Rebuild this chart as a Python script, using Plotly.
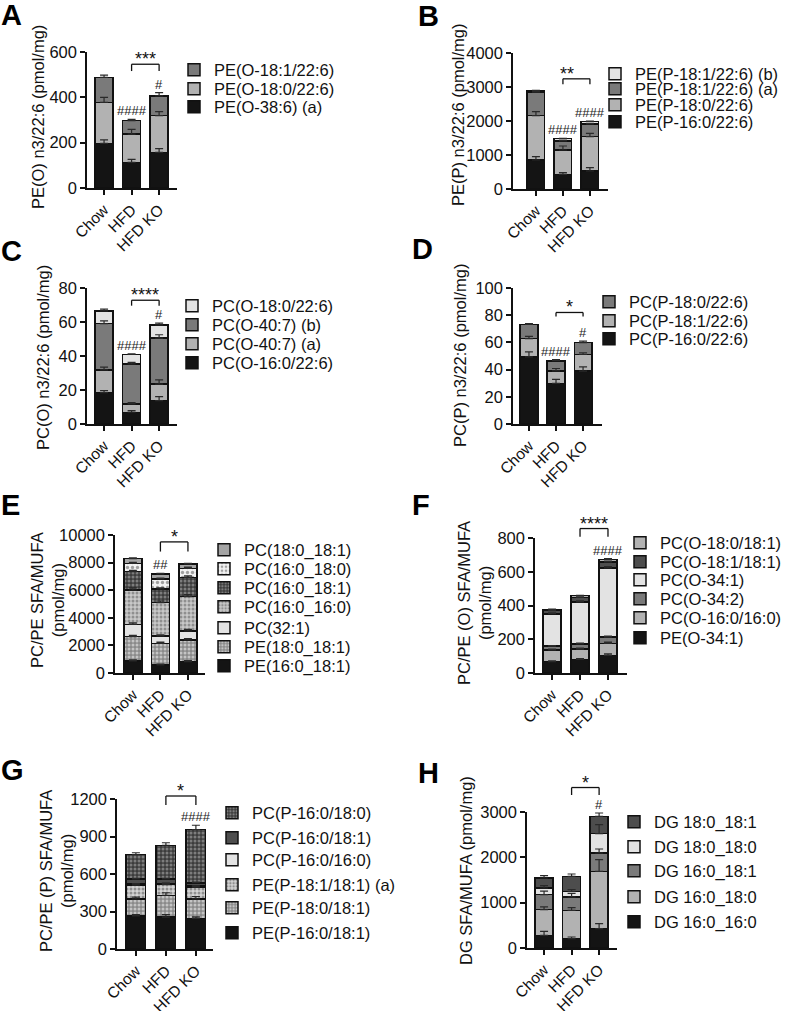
import plotly.graph_objects as go

W, H = 787, 1011
OFF = 0
FONT = "Liberation Sans, Arial, sans-serif"
FS = 16.5

categories = ["Chow", "HFD", "HFD KO"]

# ---------- Panel A ----------
a_names = ["PE(O-38:6) (a)", "PE(O-18:0/22:6)", "PE(O-18:1/22:6)"]
a_values = [[197, 113, 157], [181, 125, 162], [110, 59, 87]]
a_errors = [[15, 13, 17], [22, 21, 18], [10, 6, 15]]
a_hash = ["", "####", "#"]
a_star = "***"

# ---------- Panel B ----------
b_names = ["PE(P-16:0/22:6)", "PE(P-18:0/22:6)", "PE(P-18:1/22:6) (a)", "PE(P-18:1/22:6) (b)"]
b_values = [[853, 431, 529], [1304, 716, 1010], [690, 270, 373], [45, 63, 68]]
b_errors = [[98, 49, 98], [118, 118, 98], [15, 15, 15], [10, 10, 15]]
b_hash = ["", "####", "####"]
b_star = "**"

# ---------- Panel C ----------
c_names = ["PC(O-16:0/22:6)", "PC(O-40:7) (a)", "PC(O-40:7) (b)", "PC(O-18:0/22:6)"]
c_values = [[18.5, 6.9, 13.8], [13.3, 4.9, 9.6], [27.2, 23.6, 27.1], [7.6, 5.6, 7.8]]
c_errors = [[1.1, 1.0, 2.3], [1.6, 0.8, 2.5], [1.7, 0.9, 2.0], [1.0, 0.3, 1.0]]
c_hash = ["", "####", "#"]
c_star = "****"

# ---------- Panel D ----------
d_names = ["PC(P-16:0/22:6)", "PC(P-18:1/22:6)", "PC(P-18:0/22:6)"]
d_values = [[49.4, 29.8, 38.9], [13.4, 9.3, 12.2], [10.5, 7.4, 8.8]]
d_errors = [[3.6, 3.0, 3.1], [1.7, 1.7, 1.2], [0.5, 0.9, 1.0]]
d_hash = ["", "####", "#"]
d_star = "*"

# ---------- Panel E ----------
e_names = ["PE(16:0_18:1)", "PE(18:0_18:1)", "PC(32:1)", "PC(16:0_16:0)",
           "PC(16:0_18:1)", "PC(16:0_18:0)", "PC(18:0_18:1)"]
e_values = [[870, 580, 821], [1763, 1570, 1570], [894, 531, 652], [2487, 2416, 2488],
            [1329, 990, 1401], [604, 725, 653], [340, 362, 314]]
e_errors = [[80, 60, 80], [100, 90, 100], [100, 80, 120], [150, 120, 150],
            [100, 90, 100], [80, 70, 80], [60, 50, 50]]
e_hash = ["", "##", ""]
e_star = "*"

# ---------- Panel F ----------
f_names = ["PE(O-34:1)", "PC(O-16:0/16:0)", "PC(O-34:2)", "PC(O-34:1)",
           "PC(O-18:1/18:1)", "PC(O-18:0/18:1)"]
f_values = [[67, 81, 105], [70, 61, 70], [22, 30, 38], [192, 250, 410], [18, 26, 35], [8, 10, 15]]
f_errors = [[5, 5, 8], [5, 5, 8], [3, 5, 6], [5, 5, 8], [2, 3, 5], [2, 2, 5]]
f_hash = ["", "", "####"]
f_star = "****"

# ---------- Panel G ----------
g_names = ["PE(P-16:0/18:1)", "PE(P-18:0/18:1)", "PE(P-18:1/18:1) (a)", "PC(P-16:0/16:0)",
           "PC(P-16:0/18:1)", "PC(P-16:0/18:0)"]
g_values = [[265, 255, 245], [135, 175, 155], [110, 85, 95], [10, 10, 10], [40, 35, 25], [195, 270, 425]]
g_errors = [[10, 20, 12], [15, 20, 20], [10, 10, 10], [3, 3, 3], [5, 5, 5], [15, 20, 35]]
g_hash = ["", "", "####"]
g_star = "*"

# ---------- Panel H ----------
h_names = ["DG 16:0_16:0", "DG 16:0_18:0", "DG 16:0_18:1", "DG 18:0_18:0", "DG 18:0_18:1"]
h_values = [[279, 206, 426], [567, 625, 1265], [330, 294, 405], [148, 125, 426], [220, 331, 382]]
h_errors = [[89, 37, 111], [60, 60, 258], [80, 80, 88], [50, 40, 198], [52, 51, 74]]
h_hash = ["", "", "#"]
h_star = "*"

# ---------- styles ----------
BLACK = "#141414"
DARK = "#7a7a7a"
DARKER = "#4d4d4d"
LIGHT = "#b2b2b2"
VLIGHT = "#e3e3e3"


def solid(c):
    return dict(color=c)


def pat(bg, fg, size=4, solidity=0.45):
    return dict(color=bg, pattern=dict(shape=".", bgcolor=bg, fgcolor=fg, size=size,
                                       solidity=solidity, fillmode="replace"))


a_styles = [solid(BLACK), solid(LIGHT), solid(DARK)]
b_styles = [solid(BLACK), solid(LIGHT), solid(DARK), solid(VLIGHT)]
c_styles = [solid(BLACK), solid(LIGHT), solid(DARK), solid(VLIGHT)]
d_styles = [solid(BLACK), solid(LIGHT), solid(DARK)]
e_styles = [solid(BLACK), pat("#8a8a8a", "#c4c4c4"), solid(VLIGHT), pat("#c9c9c9", "#8f8f8f"),
            pat("#3c3c3c", "#7d7d7d"), pat("#f2f2f2", "#a0a0a0", 5, 0.35), solid("#a4a4a4")]
f_styles = [solid(BLACK), solid(LIGHT), solid(DARK), solid(VLIGHT), solid(DARKER), solid(LIGHT)]
g_styles = [solid(BLACK), pat("#8a8a8a", "#c4c4c4"), pat("#d4d4d4", "#8f8f8f"), solid(VLIGHT),
            solid(DARKER), pat("#3c3c3c", "#7d7d7d")]
h_styles = [solid(BLACK), solid(LIGHT), solid(DARK), solid(VLIGHT), solid(DARKER)]


def fx(px):
    return (px - OFF) / W


def fy(py):
    return 1 - (py - OFF) / H


# layout geometry in page pixels: y-axis x, x-axis end, y of zero, y of max
# legx: legend text start; rows: legend row centres from top to bottom; tpos: y-title centre
panels = [
    dict(key="A", names=a_names, vals=a_values, errs=a_errors, styles=a_styles, hashes=a_hash, star=a_star,
         px=(87, 177, 188, 52), xr=(-0.62, 2.65), yr=(0, 600), dt=200,
         title="PE(O) n3/22:6 (pmol/mg)", tpos=(38, 117), legx=217, rows=[70, 89, 107],
         letter=(0, -2), br=(0.91, 0.86)),
    dict(key="B", names=b_names, vals=b_values, errs=b_errors, styles=b_styles, hashes=b_hash, star=b_star,
         px=(513, 608, 189, 53), xr=(-0.85, 2.67), yr=(0, 4000), dt=1000,
         title="PE(P) n3/22:6 (pmol/mg)", tpos=(458, 115), legx=638, rows=[74, 89, 105, 122],
         letter=(417, -1), br=(0.81, 0.77)),
    dict(key="C", names=c_names, vals=c_values, errs=c_errors, styles=c_styles, hashes=c_hash, star=c_star,
         px=(87, 177, 424, 288), xr=(-0.62, 2.65), yr=(0, 80), dt=20,
         title="PC(O) n3/22:6 (pmol/mg)", tpos=(43, 358), legx=215, rows=[306, 325, 344, 363],
         letter=(0, 234), br=(0.91, 0.87)),
    dict(key="D", names=d_names, vals=d_values, errs=d_errors, styles=d_styles, hashes=d_hash, star=d_star,
         px=(513, 602, 424, 288), xr=(-0.59, 2.70), yr=(0, 100), dt=20,
         title="PC(P) n3/22:6 (pmol/mg)", tpos=(460, 356), legx=632, rows=[302, 321, 339],
         letter=(411, 232), br=(0.82, 0.79)),
    dict(key="E", names=e_names, vals=e_values, errs=e_errors, styles=e_styles, hashes=e_hash, star=e_star,
         px=(115, 205, 673, 535), xr=(-0.65, 2.62), yr=(0, 10000), dt=2000,
         title="PC/PE SFA/MUFA<br>(pmol/mg)", tpos=(47, 600), legx=247,
         rows=[550, 569, 588, 607, 628, 647, 666], letter=(0, 488), br=(0.95, 0.88)),
    dict(key="F", names=f_names, vals=f_values, errs=f_errors, styles=f_styles, hashes=f_hash, star=f_star,
         px=(535, 627, 673, 538), xr=(-0.61, 2.68), yr=(0, 800), dt=200,
         title="PC/PE (O) SFA/MUFA<br>(pmol/mg)", tpos=(474, 603), legx=663,
         rows=[543, 562, 580, 599, 618, 638], letter=(411, 488), br=(1.07, 1.01)),
    dict(key="G", names=g_names, vals=g_values, errs=g_errors, styles=g_styles, hashes=g_hash, star=g_star,
         px=(117, 213, 949, 799), xr=(-0.63, 2.57), yr=(0, 1200), dt=300,
         title="PC/PE (P) SFA/MUFA<br>(pmol/mg)", tpos=(56, 871), legx=255,
         rows=[813, 838, 860, 885, 908, 933], letter=(0, 753), br=(1.02, 0.96)),
    dict(key="H", names=h_names, vals=h_values, errs=h_errors, styles=h_styles, hashes=h_hash, star=h_star,
         px=(527, 617, 948, 812), xr=(-0.62, 2.65), yr=(0, 3000), dt=1000,
         title="DG SFA/MUFA (pmol/mg)", tpos=(466, 871), legx=657, rows=[822, 847, 871, 897, 922],
         letter=(417, 756), br=(1.18, 1.125)),
]

fig = go.Figure()
shapes = []
annotations = []
layout_extra = {}
leg_count = 0

for i, p in enumerate(panels):
    n = i + 1
    sx = "" if n == 1 else str(n)
    xa, ya = "x" + sx, "y" + sx
    x0p, x1p, y0p, y1p = p["px"]
    nser = len(p["names"])

    cum = [0, 0, 0]
    for j, (name, vals, errs, st) in enumerate(zip(p["names"], p["vals"], p["errs"], p["styles"])):
        leg_count += 1
        legname = "legend" if leg_count == 1 else f"legend{leg_count}"
        row_y = p["rows"][nser - 1 - j]
        layout_extra[legname] = dict(
            x=fx(p["legx"] - 43), y=fy(row_y), xanchor="left", yanchor="middle",
            font=dict(family=FONT, size=FS, color="#111"), bgcolor="rgba(0,0,0,0)",
        )
        marker = dict(st)
        marker["line"] = dict(color="#111111", width=1.5)
        fig.add_trace(go.Bar(
            x=categories, y=vals, name=name, marker=marker, xaxis=xa, yaxis=ya,
            legend=legname, showlegend=True,
        ))
        cum = [c + v for c, v in zip(cum, vals)]
        fig.add_trace(go.Scatter(
            x=categories, y=list(cum), mode="markers", marker=dict(opacity=0, size=1),
            error_y=dict(type="data", array=errs, arrayminus=[0, 0, 0], symmetric=False,
                         color="#2a2a2a", thickness=1.2, width=4),
            xaxis=xa, yaxis=ya, showlegend=False, hoverinfo="skip",
        ))
    # hash marks above bars
    top_err = p["errs"][-1]
    for k, hs in enumerate(p["hashes"]):
        if hs:
            annotations.append(dict(
                x=categories[k], y=cum[k] + top_err[k], xref=xa, yref=ya, text=hs,
                showarrow=False, yanchor="bottom", yshift=-1,
                font=dict(family=FONT, size=13, color="#222"),
            ))
    # significance bracket HFD vs HFD KO
    hb, ht = p["br"]
    shapes.append(dict(type="line", xref=xa, yref=ya + " domain", x0=categories[1], x1=categories[2],
                       y0=hb, y1=hb, line=dict(color="#111", width=1.3)))
    for c in (categories[1], categories[2]):
        shapes.append(dict(type="line", xref=xa, yref=ya + " domain", x0=c, x1=c,
                           y0=ht, y1=hb, line=dict(color="#111", width=1.3)))
    r0, r1 = p["xr"]
    annotations.append(dict(
        x=(1.5 - r0) / (r1 - r0), y=hb, xref=xa + " domain", yref=ya + " domain",
        text=p["star"], showarrow=False, yanchor="bottom", yshift=-7,
        font=dict(family=FONT, size=18, color="#111"),
    ))
    # y-axis title
    tx, ty = p["tpos"]
    annotations.append(dict(
        x=fx(tx), y=fy(ty), xref="paper", yref="paper", text=p["title"], textangle=-90,
        showarrow=False, xanchor="center", yanchor="middle",
        font=dict(family=FONT, size=FS, color="#111"),
    ))
    # panel letter
    lx, ly = p["letter"]
    annotations.append(dict(
        x=fx(lx), y=fy(ly), xref="paper", yref="paper", text=f"<b>{p['key']}</b>",
        showarrow=False, xanchor="left", yanchor="top", borderpad=0,
        font=dict(family=FONT, size=29, color="#000"),
    ))

    axis_common = dict(showline=True, linecolor="#111", linewidth=1.5, ticks="outside",
                       ticklen=5, tickwidth=1.5, tickcolor="#111", showgrid=False, zeroline=False,
                       automargin=False)
    layout_extra["xaxis" + sx] = dict(
        axis_common, domain=[fx(x0p), fx(x1p)], anchor=ya, type="category",
        range=list(p["xr"]), tickangle=-45, categoryorder="array", categoryarray=categories,
        tickfont=dict(family=FONT, size=15.5, color="#111"),
    )
    layout_extra["yaxis" + sx] = dict(
        axis_common, domain=[fy(y0p), fy(y1p)], anchor=xa, range=list(p["yr"]),
        dtick=p["dt"], tick0=0, tickformat="d",
        tickfont=dict(family=FONT, size=FS, color="#111"),
    )

fig.update_layout(
    width=W, height=H, margin=dict(l=0, r=0, t=0, b=0, autoexpand=False),
    paper_bgcolor="white", plot_bgcolor="white",
    barmode="stack", bargap=0.35, showlegend=True,
    shapes=shapes, annotations=annotations,
    font=dict(family=FONT, size=FS, color="#111"),
    **layout_extra,
)

fig.write_html("out.html", config={"displayModeBar": False},
               post_script="document.body.style.margin='0px';")
